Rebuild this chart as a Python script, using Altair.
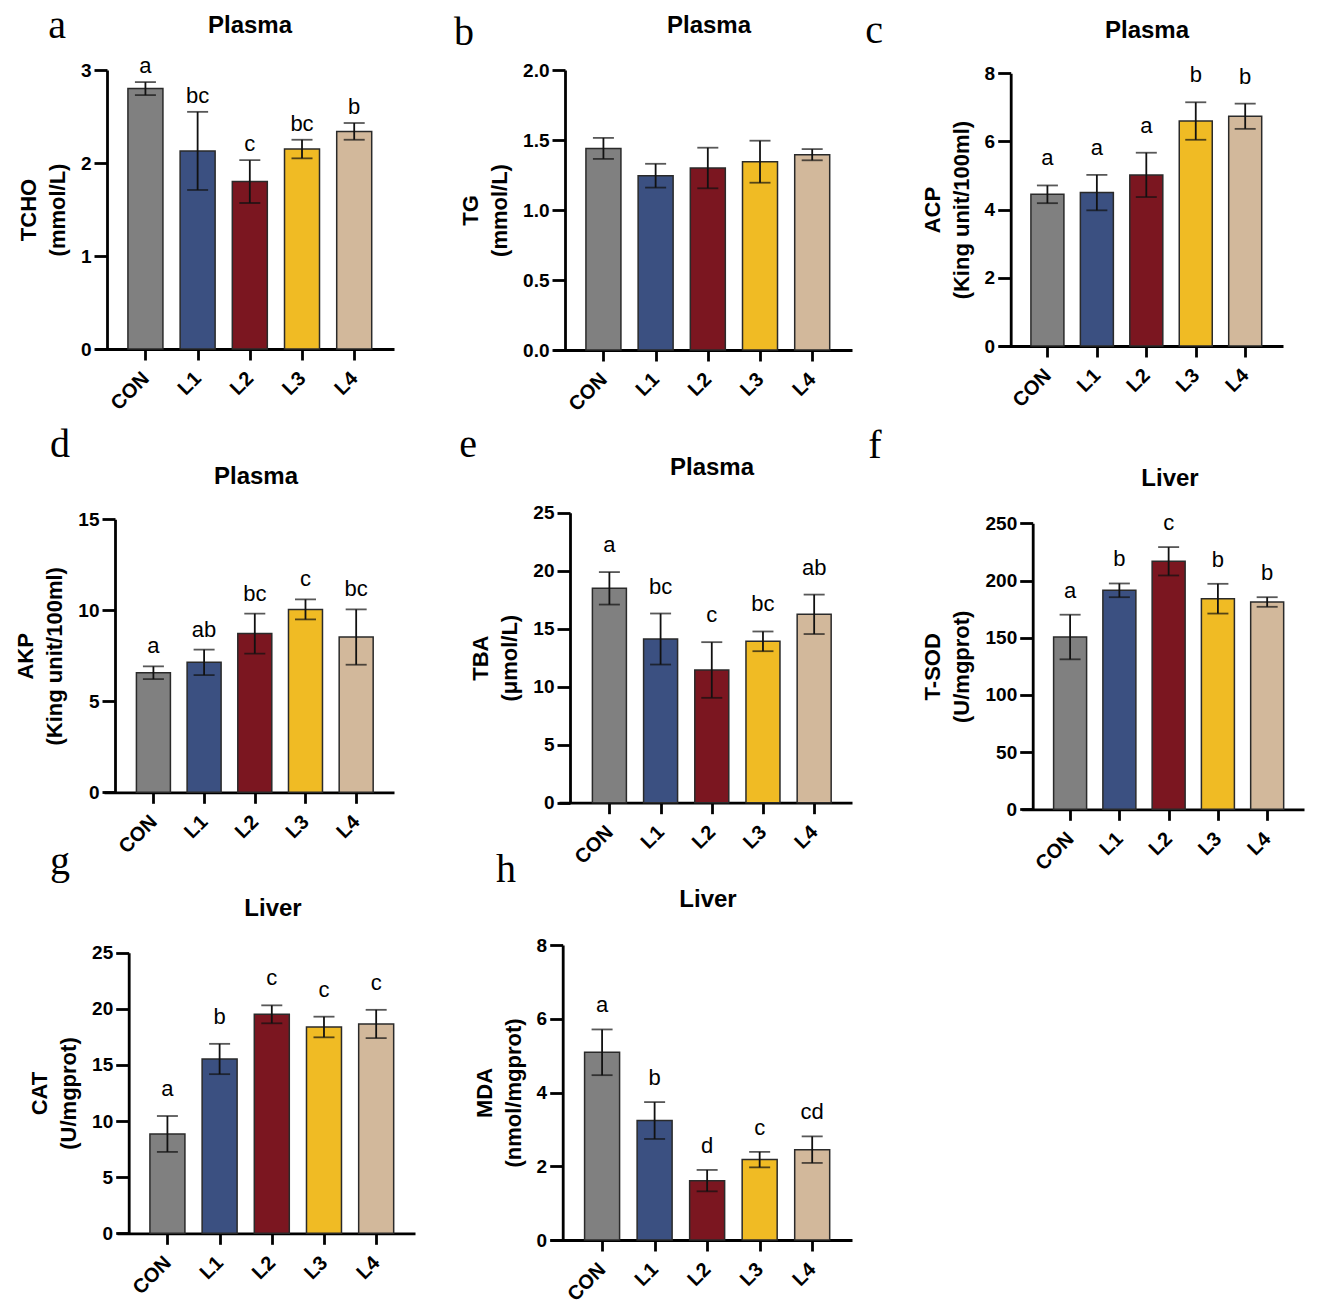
import json
import altair as alt
import pandas as pd

# ---- data -------------------------------------------------------------
groups = ["CON", "L1", "L2", "L3", "L4"]
colors = ["#808080", "#3b5081", "#7b1620", "#f0bb24", "#d2b89b"]

tcho_mean = [2.80, 2.13, 1.80, 2.15, 2.34]
tcho_sd = [0.07, 0.42, 0.23, 0.10, 0.09]
tcho_sig = ["a", "bc", "c", "bc", "b"]

tg_mean = [1.44, 1.245, 1.30, 1.345, 1.395]
tg_sd = [0.075, 0.085, 0.145, 0.15, 0.04]
tg_sig = ["", "", "", "", ""]

acp_mean = [4.45, 4.50, 5.02, 6.60, 6.74]
acp_sd = [0.26, 0.52, 0.65, 0.55, 0.37]
acp_sig = ["a", "a", "a", "b", "b"]

akp_mean = [6.57, 7.14, 8.72, 10.05, 8.53]
akp_sd = [0.35, 0.70, 1.10, 0.55, 1.52]
akp_sig = ["a", "ab", "bc", "c", "bc"]

tba_mean = [18.48, 14.11, 11.44, 13.91, 16.24]
tba_sd = [1.40, 2.20, 2.40, 0.85, 1.70]
tba_sig = ["a", "bc", "c", "bc", "ab"]

sod_mean = [150.6, 191.4, 216.8, 184.1, 181.2]
sod_sd = [19.5, 6.0, 12.4, 13.0, 4.2]
sod_sig = ["a", "b", "c", "b", "b"]

cat_mean = [8.85, 15.53, 19.51, 18.38, 18.65]
cat_sd = [1.60, 1.35, 0.80, 0.92, 1.26]
cat_sig = ["a", "b", "c", "c", "c"]

mda_mean = [5.09, 3.24, 1.61, 2.18, 2.45]
mda_sd = [0.62, 0.50, 0.29, 0.21, 0.36]
mda_sig = ["a", "b", "d", "c", "cd"]

# ---- styling ----------------------------------------------------------
SANS = "Liberation Sans"
SERIF = "Liberation Serif"
AXW = 2.8
LABEL_EXPR = json.dumps(groups) + "[datum.value]"


def panel(tag, heading, ytitle, mean, sd, sig, ymax, ystep, fmt,
          cell, frame, bar_w, sig_gap, tag_xy, head_xy):
    cw, ch = cell
    x_start, y_axis_x, c0, c4, x_end, top_px, zero_px = frame
    step = (c4 - c0) / 4.0
    d0 = -(c0 - x_start) / step
    d1 = 4 + (x_end - c4) / step

    df = pd.DataFrame({
        "idx": list(range(len(groups))),
        "group": groups,
        "mean": mean,
        "lo": [m - s for m, s in zip(mean, sd)],
        "hi": [m + s for m, s in zip(mean, sd)],
        "sig": sig,
    })

    xs = alt.Scale(domain=[d0, d1], range=[x_start, x_end], nice=False, zero=False)
    ys = alt.Scale(domain=[0, ymax], range=[zero_px, top_px], nice=False, zero=True)

    ticks = []
    v = 0.0
    while v <= ymax + 1e-9:
        ticks.append(round(v, 6))
        v += ystep

    x_axis = alt.Axis(
        values=list(range(len(groups))), labelExpr=LABEL_EXPR, title=None,
        labelAngle=315, labelAlign="right", labelBaseline="middle",
        labelFont=SANS, labelFontSize=20, labelFontWeight="bold", labelColor="black",
        labelPadding=15, labelOverlap=False, labelFlush=False, labelBound=False,
        tickSize=11, tickWidth=AXW, tickColor="black",
        domainWidth=AXW, domainColor="black", grid=False,
        offset=zero_px - ch,
    )
    y_axis = alt.Axis(
        values=ticks, format=fmt, title=ytitle,
        labelFont=SANS, labelFontSize=19, labelFontWeight="bold", labelColor="black",
        labelPadding=3, labelOverlap=False, labelFlush=False, labelBound=False,
        tickSize=13, tickWidth=AXW, tickColor="black",
        domainWidth=AXW, domainColor="black", grid=False,
        titleFont=SANS, titleFontSize=22, titleFontWeight="bold", titleColor="black",
        titlePadding=11, titleLineHeight=29,
        offset=-y_axis_x,
    )

    def xe():
        return alt.X("idx:Q", scale=xs, axis=x_axis)

    def ye(field):
        return alt.Y(field, scale=ys, axis=y_axis)

    base = alt.Chart(df)
    bars = base.mark_bar(size=bar_w, stroke="#2a2a2a", strokeWidth=1.5).encode(
        x=xe(), y=ye("mean:Q"),
        color=alt.Color("group:N", scale=alt.Scale(domain=groups, range=colors), legend=None),
    )
    stems = base.mark_rule(color="#111111", strokeWidth=1.8).encode(
        x=xe(), y=ye("lo:Q"), y2="hi:Q",
    )
    cap_hi = base.mark_tick(orient="horizontal", size=21, thickness=1.8, color="#111111").encode(
        x=xe(), y=ye("hi:Q"),
    )
    cap_lo = base.mark_tick(orient="horizontal", size=21, thickness=1.8, color="#111111").encode(
        x=xe(), y=ye("lo:Q"),
    )
    letters = base.mark_text(font=SANS, fontSize=22, color="black",
                             baseline="alphabetic", dy=-sig_gap).encode(
        x=xe(), y=ye("hi:Q"), text="sig:N",
    )
    head = alt.Chart(pd.DataFrame({"t": [heading]})).mark_text(
        font=SANS, fontSize=24, fontWeight="bold", color="black",
        align="center", baseline="alphabetic",
    ).encode(x=alt.value(head_xy[0]), y=alt.value(head_xy[1]), text="t:N")
    label = alt.Chart(pd.DataFrame({"t": [tag]})).mark_text(
        font=SERIF, fontSize=40, color="black",
        align="center", baseline="alphabetic",
    ).encode(x=alt.value(tag_xy[0]), y=alt.value(tag_xy[1]), text="t:N")

    return alt.layer(bars, stems, cap_hi, cap_lo, letters, head, label).properties(
        width=cw, height=ch
    )


panels = [
    panel("a", "Plasma", ["TCHO", "(mmol/L)"], tcho_mean, tcho_sd, tcho_sig, 3, 1, "d",
          (440, 420), (95, 107, 142, 358, 394, 70, 349), 35, 9, (57, 38), (250, 33)),
    panel("b", "Plasma", ["TG", "(mmol/L)"], tg_mean, tg_sd, tg_sig, 2.0, 0.5, ".1f",
          (420, 420), (113, 125, 160, 376, 412, 70, 350), 35, 9, (24, 45), (269, 33)),
    panel("c", "Plasma", ["ACP", "(King unit/100ml)"], acp_mean, acp_sd, acp_sig, 8, 2, "d",
          (459, 420), (139, 150.7, 184, 389, 423, 73.3, 346), 33, 20, (14, 43), (287, 38)),
    panel("d", "Plasma", ["AKP", "(King unit/100ml)"], akp_mean, akp_sd, akp_sig, 15, 5, "d",
          (440, 430), (104, 115, 150, 360, 394, 99.3, 372.3), 34, 13, (60, 37), (256, 64)),
    panel("e", "Plasma", ["TBA", "(μmol/L)"], tba_mean, tba_sd, tba_sig, 25, 5, "d",
          (420, 430), (119, 130, 166, 378, 412, 92.7, 382.7), 34, 20, (28, 37), (272, 55)),
    panel("f", "Liver", ["T-SOD", "(U/mgprot)"], sod_mean, sod_sd, sod_sig, 250, 50, "d",
          (459, 430), (161.7, 172.7, 206.7, 411, 444, 103.3, 389.3), 33, 17, (15, 38), (310, 66)),
    panel("g", "Liver", ["CAT", "(U/mgprot)"], cat_mean, cat_sd, cat_sig, 25, 5, "d",
          (440, 464), (117, 128.7, 164, 380, 415, 102.7, 383.3), 35, 20, (60, 24), (273, 66)),
    panel("h", "Liver", ["MDA", "(nmol/mgprot)"], mda_mean, mda_sd, mda_sig, 8, 2, "d",
          (420, 464), (110, 122.7, 158.7, 376, 412, 95, 390), 35, 17, (66, 32), (268, 57)),
]

chart = alt.concat(
    *panels, columns=3, spacing=0, bounds="flush", align="each"
).properties(padding=0, background="white").configure_view(stroke=None)

chart.save("out.html", embed_options={"renderer": "svg", "actions": False})
